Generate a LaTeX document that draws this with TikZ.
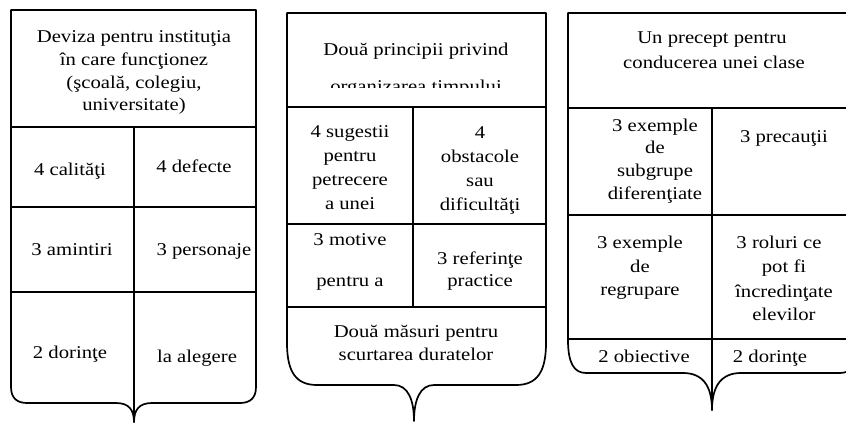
\documentclass[tikz,border=0pt]{standalone}
\usepackage{fontspec}
\setmainfont{Liberation Serif}[FakeStretch=1.15]
\newcommand{\shfont}{\fontsize{18}{23}\selectfont}
\tikzset{
  txt/.style={anchor=base, inner sep=0pt, font=\shfont},
  shield/.style={line width=1.7pt, line join=round, line cap=round},
}
\begin{document}
\begin{tikzpicture}[x=1pt,y=-1pt]
\useasboundingbox (0,0) rectangle (846,423);

% ---------- Shield 1 ----------
\draw[shield] (11,10) -- (256,10) -- (256,387)
  .. controls (256,398) and (250,403) .. (240,403) -- (152,403)
  .. controls (139,403) and (134,410) .. (134,422)
  .. controls (134,410) and (129,403) .. (116,403) -- (27,403)
  .. controls (17,403) and (11,398) .. (11,387) -- cycle;
\draw[shield] (11,127) -- (256,127);
\draw[shield] (11,207) -- (256,207);
\draw[shield] (11,292) -- (256,292);
\draw[shield] (134,127) -- (134,422);

\node[txt] (a1) at (134,42) {Deviza pentru instituţia};
\node[txt] (a2) at (134,65) {în care funcţionez};
\node[txt] (a3) at (134,88) {(şcoală, colegiu,};
\node[txt] (a4) at (134,110) {universitate)};
\node[txt] (a5) at (70,175) {4 calităţi};
\node[txt] (a6) at (194,172) {4 defecte};
\node[txt] (a7) at (72,255) {3 amintiri};
\node[txt] (a8) at (204,255) {3 personaje};
\node[txt] (a9) at (70,358) {2 dorinţe};
\node[txt] (a10) at (197,362) {la alegere};

% ---------- Shield 2 ----------
\draw[shield] (287,13) -- (546,13) -- (546,343)
  .. controls (546,372) and (537,385) .. (516,385) -- (434,385)
  .. controls (420,385) and (414,400) .. (414,421)
  .. controls (414,400) and (408,385) .. (394,385) -- (317,385)
  .. controls (296,385) and (287,372) .. (287,343) -- cycle;
\draw[shield] (287,107) -- (546,107);
\draw[shield] (287,224) -- (546,224);
\draw[shield] (287,307) -- (546,307);
\draw[shield] (413,107) -- (413,307);

\node[txt] (b1) at (416,55) {Două principii privind};
\begin{scope}
  \clip (288,60) rectangle (545,87);
  \node[txt] (b2) at (416,92) {organizarea timpului};
\end{scope}
\node[txt] (b3) at (350,137) {4 sugestii};
\node[txt] (b4) at (350,161) {pentru};
\node[txt] (b5) at (350,185) {petrecere};
\node[txt] (b6) at (350,209) {a unei};
\node[txt] (b7) at (480,138) {4};
\node[txt] (b8) at (480,162) {obstacole};
\node[txt] (b9) at (480,186) {sau};
\node[txt] (b10) at (480,210) {dificultăţi};
\node[txt] (b11) at (350,245) {3 motive};
\node[txt] (b12) at (350,286) {pentru a};
\node[txt] (b13) at (480,264) {3 referinţe};
\node[txt] (b14) at (480,286) {practice};
\node[txt] (b15) at (416,337) {Două măsuri pentru};
\node[txt] (b16) at (416,360) {scurtarea duratelor};

% ---------- Shield 3 ----------
\draw[shield] (568,13) -- (860,13) -- (860,340)
  .. controls (860,363) and (852,373) .. (840,373) -- (741,373)
  .. controls (722,373) and (712,385) .. (712,410)
  .. controls (712,385) and (702,373) .. (683,373) -- (586,373)
  .. controls (574,373) and (568,363) .. (568,340) -- cycle;
\draw[shield] (568,108) -- (860,108);
\draw[shield] (568,215) -- (860,215);
\draw[shield] (568,339) -- (860,339);
\draw[shield] (712,108) -- (712,410);

\node[txt] (c1) at (712,43) {Un precept pentru};
\node[txt] (c2) at (714,68) {conducerea unei clase};
\node[txt] (c3) at (655,131) {3 exemple};
\node[txt] (c4) at (655,153) {de};
\node[txt] (c5) at (655,176) {subgrupe};
\node[txt] (c6) at (655,199) {diferenţiate};
\node[txt] (c7) at (784,142) {3 precauţii};
\node[txt] (c8) at (640,248) {3 exemple};
\node[txt] (c9) at (640,272) {de};
\node[txt] (c10) at (640,295) {regrupare};
\node[txt] (c11) at (779,248) {3 roluri ce};
\node[txt] (c12) at (784,272) {pot fi};
\node[txt] (c13) at (784,297) {încredinţate};
\node[txt] (c14) at (784,320) {elevilor};
\node[txt] (c15) at (644,362) {2 obiective};
\node[txt] (c16) at (770,362) {2 dorinţe};
\end{tikzpicture}
\end{document}
